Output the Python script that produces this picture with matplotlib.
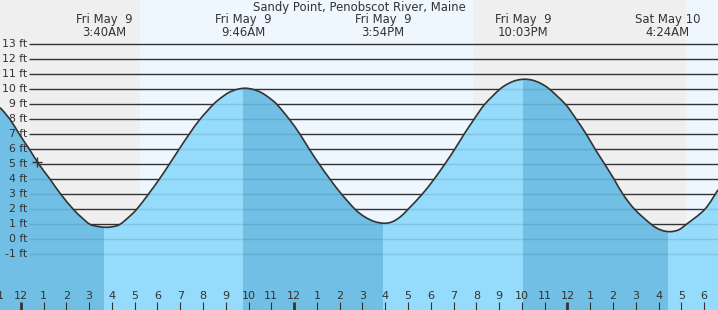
import matplotlib
matplotlib.use('Agg')
import matplotlib.pyplot as plt
import numpy as np
from matplotlib.path import Path
from matplotlib.patches import PathPatch

# Tide height (ft), time in hours from Fri May 9 00:00
hours = [-0.91, -0.47, -0.06, 0.38, 0.80, 1.29, 1.76, 2.31, 2.68, 3.04,
         3.39, 3.75, 4.10, 4.36, 4.72, 5.09, 5.60, 6.08, 6.52, 6.95,
         7.39, 7.87, 8.46, 8.81, 9.14, 9.49, 9.85, 10.20, 10.55, 10.89,
         11.24, 11.79, 12.26, 12.67, 13.11, 13.58, 14.09, 14.68, 15.10, 15.54,
         15.98, 16.33, 16.68, 17.00, 17.62, 18.14, 18.61, 19.05, 19.46, 19.90,
         20.37, 21.03, 21.42, 21.77, 22.13, 22.48, 22.83, 23.22, 23.91, 24.39,
         24.83, 25.22, 25.64, 26.05, 26.44, 26.95, 27.68, 28.09, 28.49, 28.88,
         29.22, 30.03, 30.61]
heights = [8.78, 8.0, 7.0, 6.0, 5.0, 4.0, 3.0, 2.0, 1.45, 1.0,
           0.86, 0.80, 0.86, 1.0, 1.45, 2.0, 3.0, 4.0, 5.0, 6.0,
           7.0, 8.0, 9.0, 9.45, 9.79, 9.99, 10.07, 9.99, 9.79, 9.45,
           9.0, 8.0, 7.0, 6.0, 5.0, 4.0, 3.0, 2.0, 1.50, 1.18,
           1.07, 1.18, 1.52, 2.0, 3.0, 4.0, 5.0, 6.0, 7.0, 8.0,
           9.0, 10.0, 10.39, 10.60, 10.67, 10.60, 10.39, 10.0, 9.0, 8.0,
           7.0, 6.0, 5.0, 4.0, 3.0, 2.0, 1.0, 0.63, 0.51, 0.63,
           1.0, 2.0, 3.3]

# high / low tide events
event_times = [3 + 40/60, 9 + 46/60, 15 + 54/60, 22 + 3/60, 28 + 24/60]
event_days = ['Fri May  9', 'Fri May  9', 'Fri May  9', 'Fri May  9', 'Sat May 10']
event_clock = ['3:40AM', '9:46AM', '3:54PM', '10:03PM', '4:24AM']

# sunrise / sunset (hours)
sun_times = [5.24, 19.86, 29.19]

levels = list(range(-1, 14))
now_time, now_height = 0.73, 5.17

x0, x1 = hours[0], hours[-1]
y0, y1 = -4.71, 15.95

day_col = '#eef6fe'
night_col = '#efefef'
water_col = '#95dbfb'
falling_col = '#71bfe4'
ink = '#333333'

fig = plt.figure(figsize=(7.18, 3.10), dpi=100)
ax = fig.add_axes([0, 0, 1, 1])
ax.set_xlim(x0, x1)
ax.set_ylim(y0, y1)
ax.axis('off')
ax.add_patch(plt.Rectangle((0, 0), 1, 1, transform=ax.transAxes,
                           color=day_col, zorder=0))

# night shading
ax.axvspan(x0, sun_times[0], color=night_col, lw=0, zorder=0.5)
ax.axvspan(sun_times[1], sun_times[2], color=night_col, lw=0, zorder=0.5)

# grid lines above water
ytr = ax.get_yaxis_transform()
ax.hlines(levels, 29/718, 1, transform=ytr, color=ink, lw=1.0, zorder=1)

# smooth path through the read points (bezier segments)
pts = np.column_stack([hours, heights])
n = len(pts)
verts = [pts[0]]
codes = [Path.MOVETO]
for i in range(n - 1):
    p0 = pts[max(i - 1, 0)]
    p1, p2 = pts[i], pts[i + 1]
    p3 = pts[min(i + 2, n - 1)]
    verts += [p1 + (p2 - p0) / 6, p2 - (p3 - p1) / 6, p2]
    codes += [Path.CURVE4] * 3
curve = Path(verts, codes)

wverts = verts + [(x1, y0), (x0, y0), verts[0]]
wcodes = codes + [Path.LINETO, Path.LINETO, Path.CLOSEPOLY]
water = PathPatch(Path(wverts, wcodes), facecolor=water_col, lw=0, zorder=2)
ax.add_patch(water)

falling = [(x0, event_times[0]), (event_times[1], event_times[2]),
           (event_times[3], event_times[4])]
for a, b in falling:
    sp = ax.axvspan(a, b, color=falling_col, lw=0, zorder=3)
    sp.set_clip_path(water)

wl = ax.hlines(levels, 29/718, 1, transform=ytr, color='black', alpha=0.1,
               lw=1.0, zorder=4)
wl.set_clip_path(water)

ax.add_patch(PathPatch(curve, fill=False, edgecolor=ink, lw=1.2, zorder=5))
ax.plot(now_time, now_height, marker='+', color=ink, ms=7, mew=1.0, zorder=6)

# y labels
for lv in levels:
    ax.text(27/718, lv, f'{lv} ft', transform=ytr, ha='right', va='center',
            fontsize=7.8, color=ink, zorder=7)

# title and event labels
ax.text(0.5, 1 - 7/310, 'Sandy Point, Penobscot River, Maine',
        transform=ax.transAxes, ha='center', va='center', fontsize=8.4, color=ink)
xtr = ax.get_xaxis_transform()
for t, d, c in zip(event_times, event_days, event_clock):
    ax.text(t, 1 - 20/310, d, transform=xtr, ha='center', va='center',
            fontsize=8.4, color=ink)
    ax.text(t, 1 - 32/310, c, transform=xtr, ha='center', va='center',
            fontsize=8.4, color=ink)

# hour ticks
for h in range(-1, 31):
    lab = 12 if h % 12 == 0 else h % 12
    thick = h % 12 == 0
    ax.plot([h, h], [0, 8/310], transform=xtr, color=ink,
            lw=2.0 if thick else 0.8, solid_capstyle='butt', zorder=7)
    ax.text(h, 14.3/310, str(lab), transform=xtr, ha='center', va='center',
            fontsize=8, color=ink, zorder=7)

fig.savefig('out.png', dpi=100)
